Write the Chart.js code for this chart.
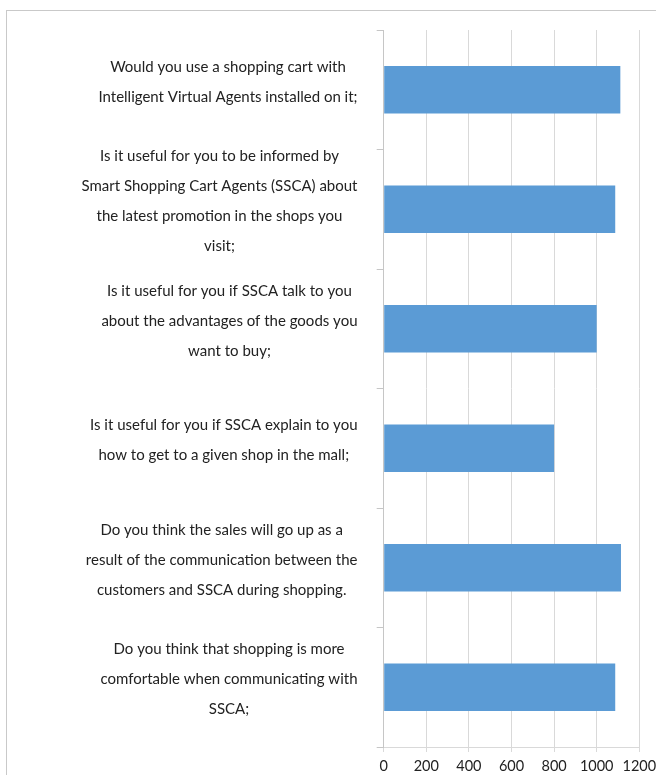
<!DOCTYPE html>
<html>
<head>
<meta charset="utf-8">
<title>SSCA survey</title>
<script src="https://cdn.jsdelivr.net/npm/chart.js@4.4.1/dist/chart.umd.min.js"></script>
<style>
    html, body { margin: 0; padding: 0; background: #fff; }
    #wrap { position: relative; width: 656px; height: 775px; overflow: hidden; }
    #frame { position: absolute; left: 6px; top: 10px; right: 0; bottom: 0;
             border-left: 1px solid #c9c9c9; border-top: 1px solid #c9c9c9; }
    #surveyChart { position: absolute; left: 0; top: 0; }
</style>
</head>
<body>
<div id="wrap">
    <div id="frame"></div>
    <canvas id="surveyChart" width="656" height="775"></canvas>
</div>
<script>
// questions, one array of wrapped lines per bar (top to bottom)
const questions = [
    ["Would you use a shopping cart with", "Intelligent Virtual Agents installed on it;"],
    ["Is it useful for you to be informed by", "Smart Shopping Cart Agents (SSCA) about", "the latest promotion in the shops you", "visit;"],
    ["Is it useful for you if SSCA talk to you", "about the advantages of the goods you", "want to buy;"],
    ["Is it useful for you if SSCA explain to you", "how to get to a given shop in the mall;"],
    ["Do you think the sales will go up as a", "result of the communication between the", "customers and SSCA during shopping."],
    ["Do you think that shopping is more", "comfortable when communicating with", "SSCA;"]
];
// number of answers per question
const answers = [1111, 1087, 1000, 800, 1114, 1087];
// x axis range
const xMin = 0;
const xMax = 1200;
const xStep = 200;

const textColor = '#222222';
const fontFamily = 'Lato, "Liberation Sans", sans-serif';

// draw the question text, each block right-aligned, lines centred inside it
const questionLabels = {
    id: 'questionLabels',
    afterDraw(chart) {
        const ctx = chart.ctx;
        const yScale = chart.scales.y;
        const rightEdge = 357.5; // right side of the text blocks
        const lineGap = 30;
        ctx.save();
        ctx.font = '15px ' + fontFamily;
        ctx.fillStyle = textColor;
        ctx.textAlign = 'center';
        ctx.textBaseline = 'alphabetic';
        questions.forEach((lines, i) => {
            const cy = yScale.getPixelForValue(i) - 3;
            const blockW = Math.max(...lines.map(l => ctx.measureText(l).width));
            const cx = rightEdge - blockW / 2;
            lines.forEach((line, j) => {
                ctx.fillText(line, cx, cy + (j - (lines.length - 1) / 2) * lineGap);
            });
        });
        ctx.restore();
    }
};

const ctx = document.getElementById('surveyChart').getContext('2d');
const surveyChart = new Chart(ctx, {
    type: 'bar',
    data: {
        labels: questions,
        datasets: [{
            data: answers,
            backgroundColor: '#5b9bd5',
            borderWidth: 0,
            categoryPercentage: 1,
            barPercentage: 0.397
        }]
    },
    options: {
        indexAxis: 'y',
        responsive: false,
        animation: false,
        events: [],
        layout: { padding: { top: 30, right: 16.7, bottom: 0, left: 0 } },
        plugins: {
            legend: { display: false },
            tooltip: { enabled: false }
        },
        scales: {
            x: {
                min: xMin,
                max: xMax,
                ticks: {
                    stepSize: xStep,
                    color: textColor,
                    font: { family: fontFamily, size: 14.5 },
                    padding: 6,
                    maxRotation: 0,
                    callback: (v) => String(v) // no thousands separator
                },
                grid: { color: '#d9d9d9', drawTicks: true, tickLength: 5 },
                border: { display: true, color: '#d9d9d9' },
                afterFit(scale) {
                    scale.height = 28;
                    // let the layout padding decide the right edge
                    scale.paddingLeft = 0;
                    scale.paddingRight = 0;
                }
            },
            y: {
                ticks: { display: false },
                grid: {
                    drawOnChartArea: false,
                    drawTicks: true,
                    tickLength: 7,
                    color: '#c6c6c6'
                },
                border: { display: true, color: '#c6c6c6' },
                afterFit(scale) { scale.width = 383.7; }
            }
        }
    },
    plugins: [questionLabels]
});
</script>
</body>
</html>
